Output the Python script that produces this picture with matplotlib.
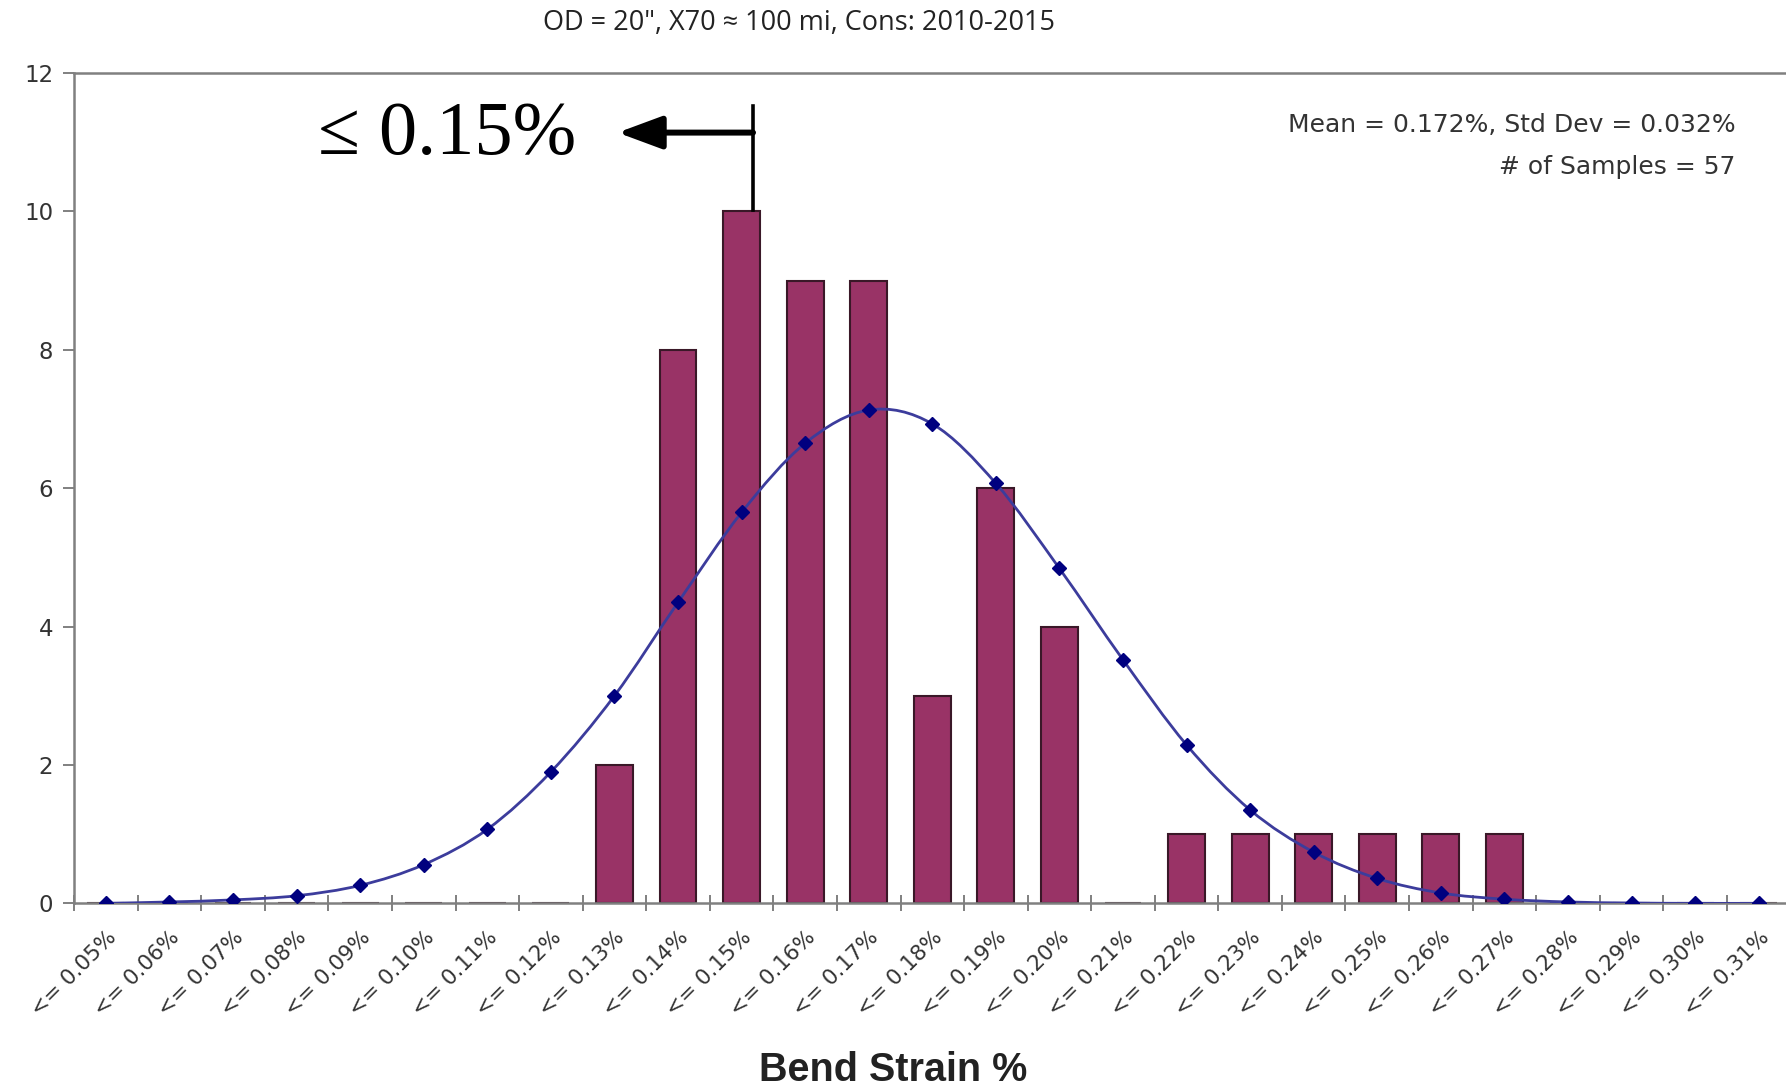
import numpy as np
import matplotlib
matplotlib.use("Agg")
import matplotlib.pyplot as plt
from matplotlib.path import Path
from matplotlib.patches import PathPatch

# DATA
bins = ["0.05", "0.06", "0.07", "0.08", "0.09", "0.10", "0.11", "0.12", "0.13",
        "0.14", "0.15", "0.16", "0.17", "0.18", "0.19", "0.20", "0.21", "0.22",
        "0.23", "0.24", "0.25", "0.26", "0.27", "0.28", "0.29", "0.30", "0.31"]
tick_labels = ["<= " + b + "%" for b in bins]
counts = [0, 0, 0, 0, 0, 0, 0, 0, 2, 8, 10, 9, 9, 3, 6, 4, 0, 1, 1, 1, 1, 1, 1, 0, 0, 0, 0]
normal_fit = [0.0, 0.02, 0.05, 0.11, 0.26, 0.56, 1.07, 1.9, 3.0, 4.35, 5.65, 6.65, 7.13,
              6.93, 6.07, 4.84, 3.52, 2.29, 1.35, 0.74, 0.36, 0.15, 0.06, 0.02, 0.005, 0.0, 0.0]

title = "OD = 20\", X70 \u2248 100 mi, Cons: 2010-2015"
stats_line1 = "Mean = 0.172%, Std Dev = 0.032%"
stats_line2 = "# of Samples = 57"

fig = plt.figure(figsize=(17.86, 10.91), dpi=100)
ax = fig.add_axes([0.0415, 0.172, 0.961, 0.761])

x = np.arange(len(bins))

# Bars
ax.bar(x, counts, width=0.58, color="#993366", edgecolor="#3a1828", linewidth=1.5, zorder=2)

# Smoothed normal curve (Catmull-Rom style bezier through the points, like Excel)
pts = np.column_stack([x, normal_fit]).astype(float)
verts = [tuple(pts[0])]
codes = [Path.MOVETO]
n = len(pts)
for i in range(n - 1):
    p0 = pts[i - 1] if i > 0 else pts[i]
    p1 = pts[i]
    p2 = pts[i + 1]
    p3 = pts[i + 2] if i + 2 < n else pts[i + 1]
    c1 = p1 + (p2 - p0) / 6.0
    c2 = p2 - (p3 - p1) / 6.0
    verts += [tuple(c1), tuple(c2), tuple(p2)]
    codes += [Path.CURVE4] * 3
ax.add_patch(PathPatch(Path(verts, codes), facecolor="none", edgecolor="#3c3c9c",
                       linewidth=2.0, zorder=3))
ax.plot(x, normal_fit, linestyle="none", marker="D", markersize=7.5,
        color="#00007f", zorder=4)

# Axes styling
ax.set_xlim(-0.5, len(bins) - 0.5)
ax.set_ylim(0, 12)
ax.set_yticks(range(0, 13, 2))
ax.set_xticks(x)
ax.set_xticklabels(tick_labels, rotation=45, ha="right", rotation_mode="anchor",
                   fontsize=15.5, family="DejaVu Sans", color="#333333")
ax.set_xticks(np.arange(-0.5, len(bins), 1), minor=True)
ax.tick_params(axis="x", which="major", length=0, pad=17)
ax.tick_params(axis="x", which="minor", length=11, direction="inout", color="#808080", width=1.4)
ax.tick_params(axis="y", length=8, direction="out", color="#808080", width=1.4, pad=7,
               labelsize=16.5)
for lab in ax.get_yticklabels():
    lab.set_family("DejaVu Sans")
    lab.set_color("#333333")

for side in ["left", "bottom", "top"]:
    ax.spines[side].set_color("#808080")
    ax.spines[side].set_linewidth(1.8)
ax.spines["right"].set_visible(False)

ax.set_xlabel("Bend Strain %", fontsize=28.5, fontweight="bold", family="Liberation Sans",
              color="#222222")
ax.xaxis.set_label_coords(0.477, -0.201)
ax.xaxis.label.set_va("center")

# Title
fig.text(0.4475, 0.979, title, ha="center", va="center", fontsize=19.5, family="Open Sans",
         color="#222222")

# Stats text
ax.text(0.968, 0.937, stats_line1, transform=ax.transAxes, ha="right", va="center",
        fontsize=18, family="DejaVu Sans", color="#333333")
ax.text(0.968, 0.887, stats_line2, transform=ax.transAxes, ha="right", va="center",
        fontsize=18, family="DejaVu Sans", color="#333333")

# Threshold annotation
ax.plot([10.18, 10.18], [10.02, 11.52], color="black", linewidth=2.6, zorder=5)
ax.annotate("", xy=(8.05, 11.14), xytext=(10.18, 11.14),
            arrowprops=dict(arrowstyle="-|>,head_length=1.35,head_width=0.5",
                            mutation_scale=20, lw=4.3, color="black",
                            shrinkA=0, shrinkB=0))
ax.text(5.36, 11.1, "\u2264 0.15%", ha="center", va="center", fontsize=55,
        family="Liberation Serif", color="black")

fig.savefig("out.png", dpi=100)
